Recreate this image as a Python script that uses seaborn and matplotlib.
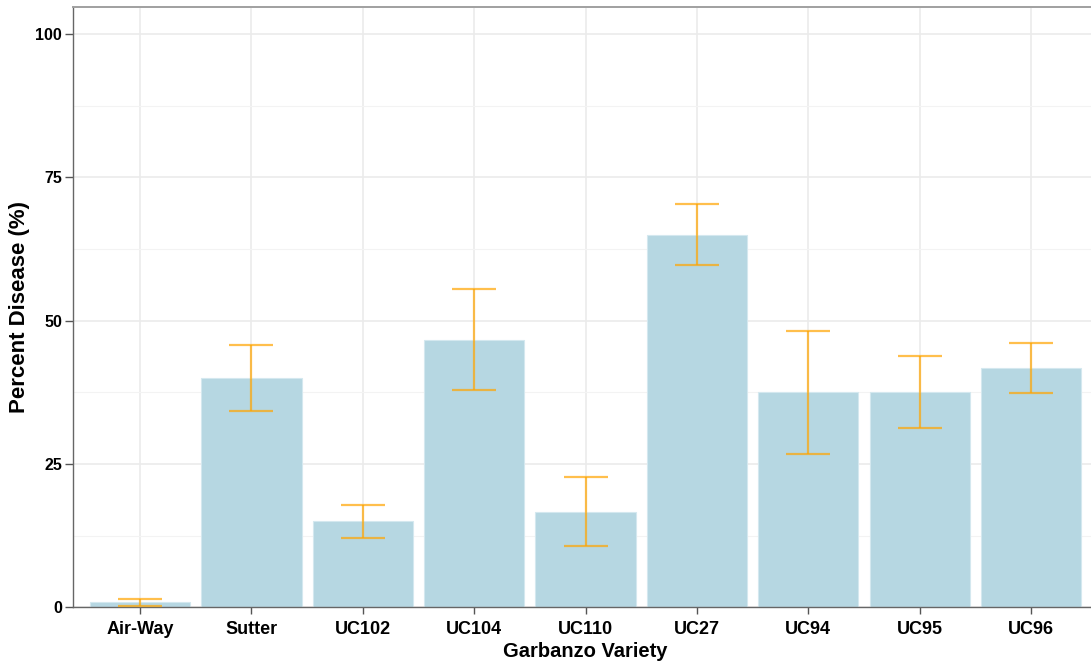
import numpy as np
import pandas as pd
import seaborn as sns
import matplotlib.pyplot as plt


# Data
varieties = ['Air-Way', 'Sutter', 'UC102', 'UC104', 'UC110', 'UC27', 'UC94', 'UC95', 'UC96']
mean_disease = [0.9, 40.0, 15.0, 46.7, 16.7, 65.0, 37.5, 37.5, 41.7]
se_disease = [0.6, 5.8, 2.9, 8.8, 6.0, 5.3, 10.7, 6.3, 4.4]

df = pd.DataFrame({'variety': varieties, 'mean': mean_disease, 'se': se_disease})

sns.set_style('whitegrid')
plt.rcParams['font.family'] = ['Liberation Sans', 'DejaVu Sans']

fig = plt.figure(figsize=(10.91, 6.65), dpi=100)
ax = fig.add_axes([0.0671, 0.0868, 0.9393, 0.9027])

sns.barplot(data=df, x='variety', y='mean', color='#b6d7e2', saturation=1,
            width=0.9, edgecolor='#d4e8ef', linewidth=0.8, ax=ax, zorder=2)

xpos = np.arange(len(df))
ax.errorbar(xpos, df['mean'], yerr=df['se'], fmt='none', ecolor='orange', alpha=0.7,
            elinewidth=1.6, capsize=16, capthick=1.6, zorder=3)

ax.set_xlim(-0.6, len(df) - 0.4)
ax.set_ylim(0, 104.7)
ax.set_yticks([0, 25, 50, 75, 100])
ax.set_yticks([12.5, 37.5, 62.5, 87.5], minor=True)

ax.grid(which='major', color='#ebebeb', linewidth=1.2, zorder=0)
ax.grid(which='minor', axis='y', color='#f3f3f3', linewidth=0.8, zorder=0)
ax.set_axisbelow(True)

for side in ['left', 'bottom']:
    ax.spines[side].set_color('#666666')
    ax.spines[side].set_linewidth(1.0)
ax.spines['top'].set_color('#a0a0a0')
ax.spines['top'].set_linewidth(1.4)
ax.spines['right'].set_visible(False)

ax.tick_params(axis='x', which='major', length=5, width=1.0, color='#555555', pad=5, bottom=True)
ax.tick_params(axis='y', which='major', length=6, width=1.0, color='#555555', pad=2, left=True)
ax.tick_params(axis='y', which='minor', length=0)
plt.setp(ax.get_xticklabels(), fontsize=13, fontweight='bold', color='black')
plt.setp(ax.get_yticklabels(), fontsize=11.5, fontweight='bold', color='black')

ax.set_xlabel('Garbanzo Variety', fontsize=14.5, fontweight='bold', color='black', labelpad=3)
ax.set_ylabel('Percent Disease (%)', fontsize=16, fontweight='bold', color='black', labelpad=4)

fig.savefig('out.png', dpi=100)
plt.close()
